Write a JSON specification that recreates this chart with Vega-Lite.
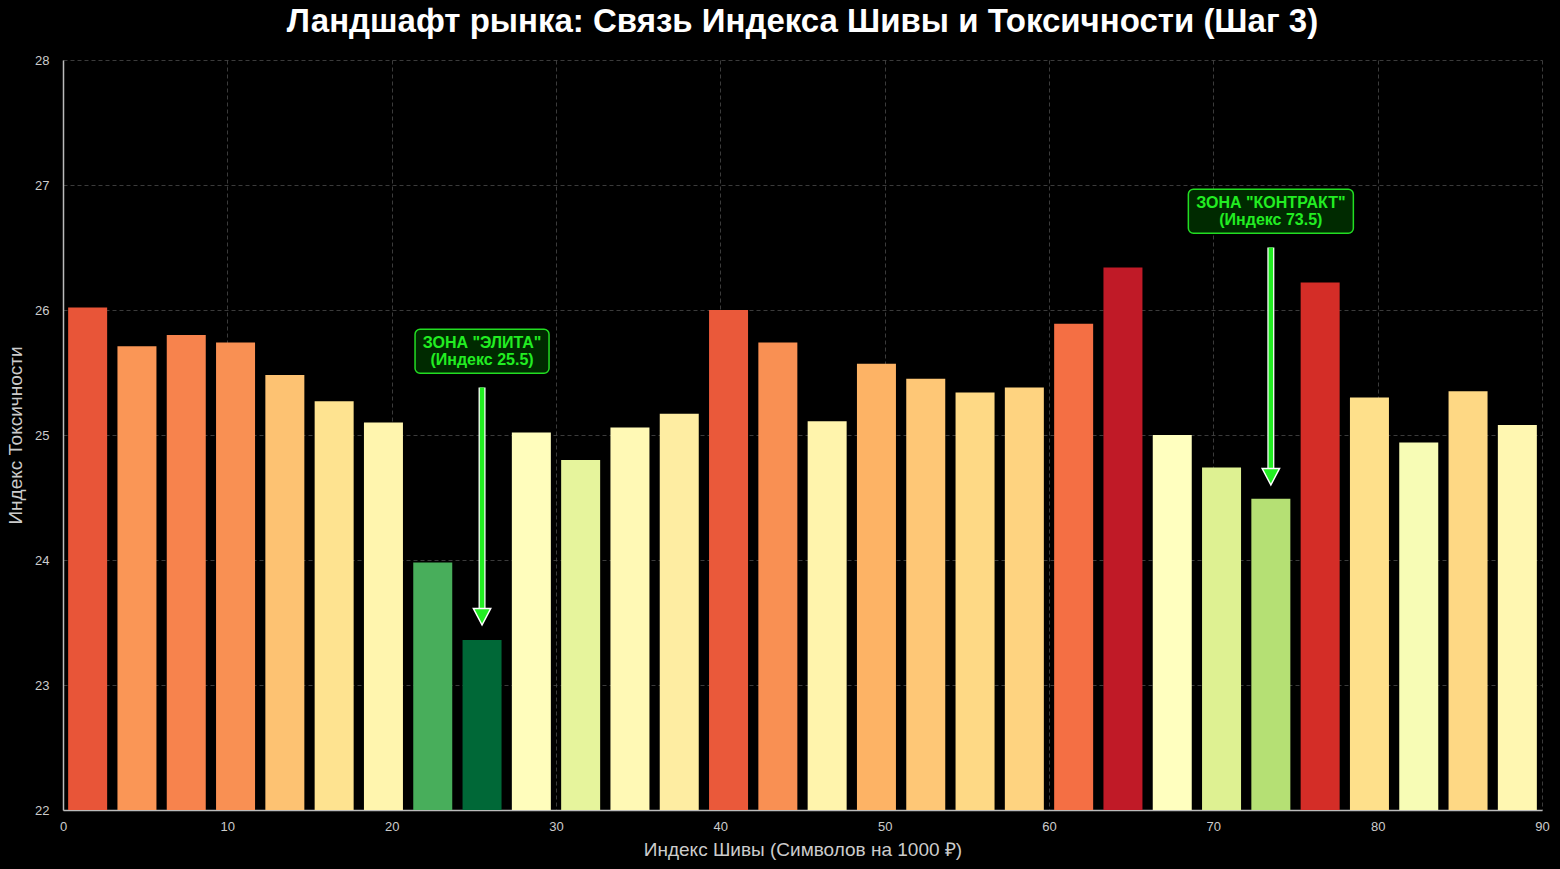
{
  "$schema": "https://vega.github.io/schema/vega-lite/v6.json",
  "autosize": {"type": "none"},
  "padding": {"left": 63, "top": 60, "right": 18, "bottom": 59},
  "width": 1479,
  "height": 750,
  "background": "#000000",
  "config": {
    "view": {"stroke": null},
    "font": "Liberation Sans",
    "axis": {
      "labelColor": "#cccccc",
      "labelFont": "Liberation Sans",
      "labelFontSize": 13,
      "labelFlush": false,
      "titleColor": "#cccccc",
      "titleFont": "Liberation Sans",
      "titleFontSize": 19,
      "titleFontWeight": "normal",
      "domainColor": "#bbbbbb",
      "domainWidth": 1.5,
      "ticks": false,
      "gridColor": "#4a4a4a",
      "gridDash": [4, 3],
      "gridWidth": 0.8
    }
  },
  "title": {
    "text": "Ландшафт рынка: Связь Индекса Шивы и Токсичности (Шаг 3)",
    "color": "#ffffff",
    "fontSize": 33,
    "fontWeight": "bold",
    "font": "Liberation Sans",
    "anchor": "middle",
    "offset": 15
  },
  "datasets": {
    "bars": [
      {"shiva": 1.5, "tox": 26.02},
      {"shiva": 4.5, "tox": 25.71},
      {"shiva": 7.5, "tox": 25.80},
      {"shiva": 10.5, "tox": 25.74},
      {"shiva": 13.5, "tox": 25.48},
      {"shiva": 16.5, "tox": 25.27},
      {"shiva": 19.5, "tox": 25.10},
      {"shiva": 22.5, "tox": 23.98},
      {"shiva": 25.5, "tox": 23.36},
      {"shiva": 28.5, "tox": 25.02},
      {"shiva": 31.5, "tox": 24.80},
      {"shiva": 34.5, "tox": 25.06},
      {"shiva": 37.5, "tox": 25.17},
      {"shiva": 40.5, "tox": 26.00},
      {"shiva": 43.5, "tox": 25.74},
      {"shiva": 46.5, "tox": 25.11},
      {"shiva": 49.5, "tox": 25.57},
      {"shiva": 52.5, "tox": 25.45},
      {"shiva": 55.5, "tox": 25.34},
      {"shiva": 58.5, "tox": 25.38},
      {"shiva": 61.5, "tox": 25.89},
      {"shiva": 64.5, "tox": 26.34},
      {"shiva": 67.5, "tox": 25.00},
      {"shiva": 70.5, "tox": 24.74},
      {"shiva": 73.5, "tox": 24.49},
      {"shiva": 76.5, "tox": 26.22},
      {"shiva": 79.5, "tox": 25.30},
      {"shiva": 82.5, "tox": 24.94},
      {"shiva": 85.5, "tox": 25.35},
      {"shiva": 88.5, "tox": 25.08}
    ],
    "notes": [
      {"zone": "elite", "shiva": 25.5, "label": "ЗОНА \"ЭЛИТА\"\n(Индекс 25.5)", "labelY": 25.67, "arrowTop": 25.38, "arrowEnd": 23.6, "tip": 23.48},
      {"zone": "contract", "shiva": 73.5, "label": "ЗОНА \"КОНТРАКТ\"\n(Индекс 73.5)", "labelY": 26.79, "arrowTop": 26.5, "arrowEnd": 24.72, "tip": 24.6}
    ]
  },
  "layer": [
    {
      "data": {"name": "bars"},
      "mark": {"type": "bar", "size": 39, "clip": true},
      "encoding": {
        "x": {
          "field": "shiva", "type": "quantitative",
          "scale": {"domain": [0, 90], "nice": false, "zero": false, "padding": 0},
          "axis": {"values": [0, 10, 20, 30, 40, 50, 60, 70, 80, 90], "format": "d", "title": "Индекс Шивы (Символов на 1000 ₽)", "labelPadding": 10, "titlePadding": 7}
        },
        "y": {
          "field": "tox", "type": "quantitative",
          "scale": {"domain": [22, 28], "nice": false, "zero": false},
          "axis": {"values": [22, 23, 24, 25, 26, 27, 28], "format": "d", "title": "Индекс Токсичности", "labelPadding": 14, "titlePadding": 9}
        },
        "y2": {"datum": 22},
        "color": {
          "field": "tox", "type": "quantitative",
          "scale": {
            "type": "linear",
            "domain": [23.5, 23.8, 24.1, 24.4, 24.7, 25.0, 25.3, 25.6, 25.9, 26.2, 26.5],
            "range": ["#006837", "#1a9850", "#66bd63", "#a6d96a", "#d9ef8b", "#ffffbf", "#fee08b", "#fdae61", "#f46d43", "#d73027", "#a50026"],
            "interpolate": "rgb",
            "clamp": true
          },
          "legend": null
        }
      }
    },
    {
      "data": {"name": "notes"},
      "mark": {"type": "rule", "color": "#ffffff", "strokeWidth": 7},
      "encoding": {
        "x": {"field": "shiva", "type": "quantitative"},
        "y": {"field": "arrowTop", "type": "quantitative"},
        "y2": {"field": "arrowEnd"}
      }
    },
    {
      "data": {"name": "notes"},
      "mark": {"type": "rule", "color": "#22ee22", "strokeWidth": 4.5},
      "encoding": {
        "x": {"field": "shiva", "type": "quantitative"},
        "y": {"field": "arrowTop", "type": "quantitative"},
        "y2": {"field": "arrowEnd"}
      }
    },
    {
      "data": {"name": "notes"},
      "mark": {"type": "point", "shape": "M-1,-1.9L1,-1.9L0,0Z", "size": 300, "filled": true, "fill": "#22ee22", "stroke": "#ffffff", "strokeWidth": 1.5, "opacity": 1},
      "encoding": {
        "x": {"field": "shiva", "type": "quantitative"},
        "y": {"field": "tip", "type": "quantitative"}
      }
    },
    {
      "data": {"name": "notes"},
      "transform": [{"filter": "datum.zone === 'elite'"}],
      "mark": {"type": "rect", "width": 134, "height": 44, "cornerRadius": 5, "fill": "#002a00", "stroke": "#22dd22", "strokeWidth": 1.5},
      "encoding": {
        "x": {"field": "shiva", "type": "quantitative"},
        "y": {"field": "labelY", "type": "quantitative"}
      }
    },
    {
      "data": {"name": "notes"},
      "transform": [{"filter": "datum.zone === 'contract'"}],
      "mark": {"type": "rect", "width": 165, "height": 44, "cornerRadius": 5, "fill": "#002a00", "stroke": "#22dd22", "strokeWidth": 1.5},
      "encoding": {
        "x": {"field": "shiva", "type": "quantitative"},
        "y": {"field": "labelY", "type": "quantitative"}
      }
    },
    {
      "data": {"name": "notes"},
      "mark": {"type": "text", "lineBreak": "\n", "fontSize": 16, "fontWeight": "bold", "font": "Liberation Sans", "color": "#22ee22", "align": "center", "baseline": "middle", "lineHeight": 17, "dy": -8.5},
      "encoding": {
        "x": {"field": "shiva", "type": "quantitative"},
        "y": {"field": "labelY", "type": "quantitative"},
        "text": {"field": "label"}
      }
    }
  ]
}
